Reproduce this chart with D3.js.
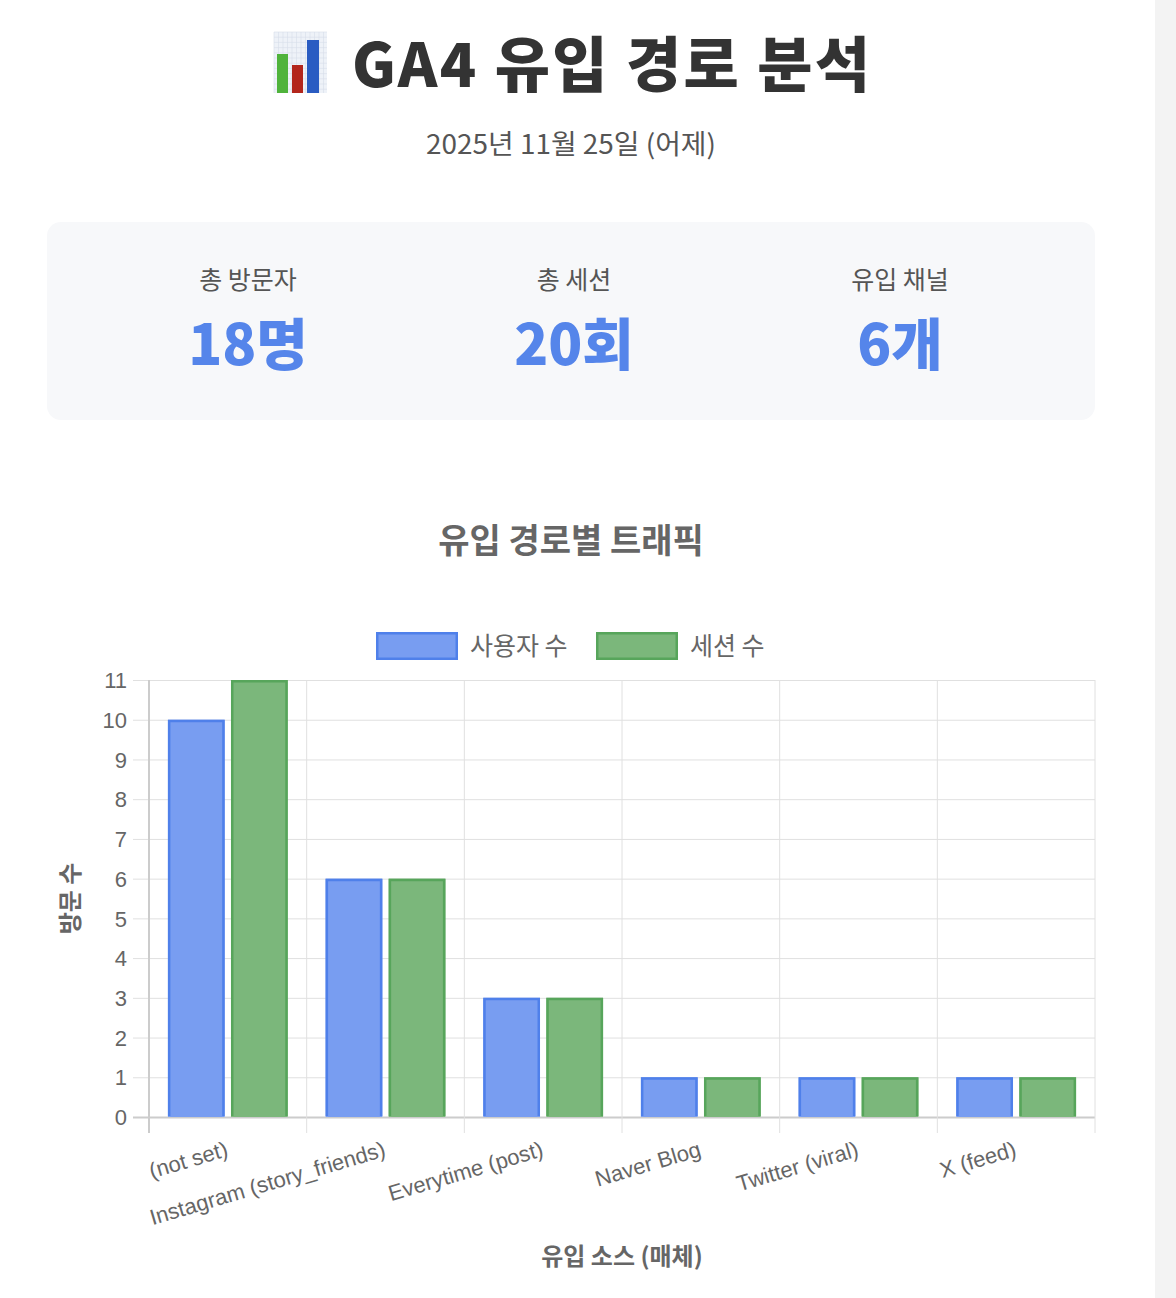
<!DOCTYPE html>
<html>
<head>
  <meta charset="utf-8">
  <title>GA4 유입 경로 분석</title>
  <script src="https://d3js.org/d3.v7.min.js"></script>
  <style>
    body { margin: 0; background: #fff; }
    svg { display: block; }
    .kr { font-family: "Noto Sans CJK KR", "Noto Sans", sans-serif; }
    .tick-label { font-family: "Liberation Sans", Arial, sans-serif; font-size: 22px; fill: #666; }
  </style>
</head>
<body>
  <script>
    // chart data
    var categories = ["(not set)", "Instagram (story_friends)", "Everytime (post)", "Naver Blog", "Twitter (viral)", "X (feed)"];
    var users = [10, 6, 3, 1, 1, 1];
    var sessions = [11, 6, 3, 1, 1, 1];
    var seriesNames = ["사용자 수", "세션 수"];
    var yTicks = [0, 1, 2, 3, 4, 5, 6, 7, 8, 9, 10, 11];

    // summary numbers
    var statLabels = ["총 방문자", "총 세션", "유입 채널"];
    var statValues = ["18명", "20회", "6개"];

    var W = 1176, H = 1298;
    var colors = {
      fill: ["#789df1", "#7bb77b"],
      stroke: ["#4f80ea", "#57a55b"]
    };

    var svg = d3.select("body").append("svg")
      .attr("width", W)
      .attr("height", H);

    svg.append("rect").attr("width", W).attr("height", H).attr("fill", "#fff");
    // scrollbar strip on the right
    svg.append("rect").attr("x", 1155).attr("width", 21).attr("height", H).attr("fill", "#f3f3f3");

    // --- header ---
    var icon = svg.append("g").attr("transform", "translate(274,32)");
    icon.append("rect").attr("width", 53).attr("height", 61).attr("fill", "#eef2f8");
    for (var i = 0; i < 12; i++) {
      icon.append("line").attr("x1", i * 4.5).attr("x2", i * 4.5).attr("y1", 0).attr("y2", 61)
        .attr("stroke", "#d6deea").attr("stroke-width", 0.6);
      icon.append("line").attr("y1", i * 5.2).attr("y2", i * 5.2).attr("x1", 0).attr("x2", 53)
        .attr("stroke", "#d6deea").attr("stroke-width", 0.6);
    }
    icon.append("rect").attr("x", 3).attr("y", 22).attr("width", 11).attr("height", 39).attr("fill", "#4fb33b");
    icon.append("rect").attr("x", 18).attr("y", 33).attr("width", 11).attr("height", 28).attr("fill", "#b3261c");
    icon.append("rect").attr("x", 33).attr("y", 8).attr("width", 12).attr("height", 53).attr("fill", "#2a5cc2");

    svg.append("text")
      .attr("class", "kr")
      .attr("x", 352).attr("y", 87)
      .attr("font-size", 60).attr("font-weight", 900)
      .attr("fill", "#333")
      .attr("textLength", 518).attr("lengthAdjust", "spacing")
      .text("GA4 유입 경로 분석");

    svg.append("text")
      .attr("class", "kr")
      .attr("x", 571).attr("y", 154)
      .attr("text-anchor", "middle")
      .attr("font-size", 27)
      .attr("fill", "#555")
      .attr("textLength", 290).attr("lengthAdjust", "spacingAndGlyphs")
      .text("2025년 11월 25일 (어제)");

    // --- stats box ---
    svg.append("rect")
      .attr("x", 47).attr("y", 222)
      .attr("width", 1048).attr("height", 198)
      .attr("rx", 14)
      .attr("fill", "#f7f8fa");

    var statX = d3.scaleBand().domain(statLabels).range([85, 1063]);
    var stat = svg.selectAll(".stat")
      .data(statLabels)
      .enter().append("g")
      .attr("class", "stat")
      .attr("transform", function(d) { return "translate(" + (statX(d) + statX.bandwidth() / 2) + ",0)"; });

    stat.append("text")
      .attr("class", "kr")
      .attr("y", 289)
      .attr("text-anchor", "middle")
      .attr("font-size", 25)
      .attr("fill", "#555")
      .text(function(d) { return d; });

    stat.append("text")
      .attr("class", "kr")
      .attr("y", 365)
      .attr("text-anchor", "middle")
      .attr("font-size", 56).attr("font-weight", 900)
      .attr("fill", "#5585ea")
      .text(function(d, i) { return statValues[i]; });

    // --- chart ---
    svg.append("text")
      .attr("class", "kr")
      .attr("x", 571).attr("y", 553)
      .attr("text-anchor", "middle")
      .attr("font-size", 34).attr("font-weight", 700)
      .attr("fill", "#666")
      .text("유입 경로별 트래픽");

    // legend
    var legendX = [376, 596];
    var legend = svg.selectAll(".legend")
      .data(seriesNames)
      .enter().append("g")
      .attr("class", "legend")
      .attr("transform", function(d, i) { return "translate(" + legendX[i] + ",632)"; });
    legend.append("rect")
      .attr("x", 1.25).attr("y", 1.25)
      .attr("width", 79.5).attr("height", 25.5)
      .attr("fill", function(d, i) { return colors.fill[i]; })
      .attr("stroke", function(d, i) { return colors.stroke[i]; })
      .attr("stroke-width", 2.5);
    legend.append("text")
      .attr("class", "kr")
      .attr("x", 94).attr("y", 23)
      .attr("font-size", 25)
      .attr("fill", "#666")
      .text(function(d) { return d; });

    var plot = { left: 149, right: 1095, top: 680, bottom: 1117 };

    var x0 = d3.scaleBand()
      .domain(categories)
      .range([plot.left, plot.right]);
    var bw = x0.bandwidth();
    var x1 = d3.scaleBand()
      .domain([0, 1])
      .range([bw * 0.1, bw * 0.9])
      .paddingInner(0.1)
      .paddingOuter(0.05);

    var y = d3.scaleLinear()
      .domain([0, 11])
      .range([plot.bottom, plot.top]);

    // horizontal grid + y labels
    var yAxis = d3.axisLeft(y)
      .tickValues(yTicks)
      .tickSize(-(plot.right - plot.left + 16))
      .tickPadding(6);
    var gy = svg.append("g")
      .attr("transform", "translate(" + (plot.left - 16) + ",0)")
      .call(yAxis);
    gy.select(".domain").remove();
    gy.selectAll(".tick line")
      .attr("stroke", function(d) { return d === 0 ? "#cccccc" : "#e0e0e0"; })
      .attr("stroke-width", function(d) { return d === 0 ? 2 : 1; });
    gy.selectAll(".tick text").attr("class", "tick-label").attr("dy", "0.35em");

    // vertical grid at category edges
    var edges = categories.map(function(c) { return x0(c); }).concat([plot.right]);
    svg.append("g").selectAll("line")
      .data(edges)
      .enter().append("line")
      .attr("x1", function(d) { return d; })
      .attr("x2", function(d) { return d; })
      .attr("y1", plot.top)
      .attr("y2", plot.bottom + 16)
      .attr("stroke", function(d, i) { return i === 0 ? "#cccccc" : "#e0e0e0"; })
      .attr("stroke-width", function(d, i) { return i === 0 ? 2 : 1; });

    // bars
    var rows = categories.map(function(c, i) { return { cat: c, vals: [users[i], sessions[i]] }; });
    var group = svg.selectAll(".grp")
      .data(rows)
      .enter().append("g")
      .attr("class", "grp")
      .attr("transform", function(d) { return "translate(" + x0(d.cat) + ",0)"; });

    var bar = group.selectAll(".bar")
      .data(function(d) { return d.vals.map(function(v, k) { return { v: v, k: k }; }); })
      .enter();

    bar.append("rect")
      .attr("class", "bar")
      .attr("x", function(d) { return x1(d.k); })
      .attr("y", function(d) { return y(d.v); })
      .attr("width", x1.bandwidth())
      .attr("height", function(d) { return y(0) - y(d.v); })
      .attr("fill", function(d) { return colors.fill[d.k]; });

    bar.append("path")
      .attr("fill", "none")
      .attr("stroke", function(d) { return colors.stroke[d.k]; })
      .attr("stroke-width", 2.5)
      .attr("d", function(d) {
        var l = x1(d.k) + 1.25, r = x1(d.k) + x1.bandwidth() - 1.25;
        var t = y(d.v) + 1.25, b = y(0) - 1;
        return "M" + l + "," + b + "V" + t + "H" + r + "V" + b;
      });

    // x labels
    svg.append("g").selectAll("text")
      .data(categories)
      .enter().append("text")
      .attr("class", "tick-label")
      .attr("text-anchor", "end")
      .attr("transform", function(d) {
        return "translate(" + (x0(d) + bw / 2 - 3) + "," + (plot.bottom + 24) + ") rotate(-16.5)";
      })
      .attr("dy", "0.7em")
      .text(function(d) { return d; });

    // axis titles
    svg.append("text")
      .attr("class", "kr")
      .attr("x", 622).attr("y", 1265)
      .attr("text-anchor", "middle")
      .attr("font-size", 24).attr("font-weight", 700)
      .attr("fill", "#666")
      .text("유입 소스 (매체)");

    svg.append("text")
      .attr("class", "kr")
      .attr("transform", "translate(79," + ((plot.top + plot.bottom) / 2) + ") rotate(-90)")
      .attr("text-anchor", "middle")
      .attr("font-size", 24).attr("font-weight", 700)
      .attr("fill", "#666")
      .text("방문 수");
  </script>
</body>
</html>
